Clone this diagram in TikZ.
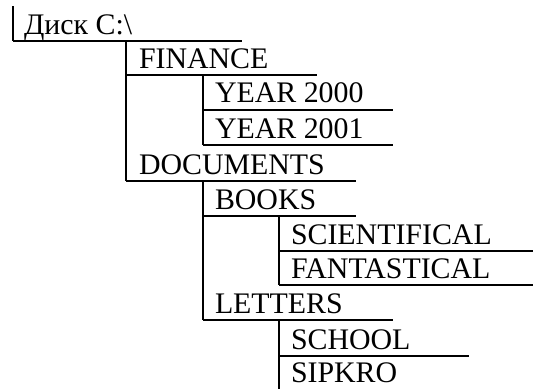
\documentclass[tikz,border=0pt]{standalone}
\usepackage{fontspec}
\setmainfont{Liberation Serif}
\usepackage{tikz}

\tikzset{
  lbl/.style={anchor=base west, inner sep=0pt, font=\fontsize{22.4}{26}\selectfont},
}

\begin{document}
\begin{tikzpicture}[x=0.75pt,y=-0.75pt,line width=1.5pt]
\useasboundingbox (0,0) rectangle (533,389);
% corners of the entries
\coordinate (top) at (13,6);
\coordinate (root) at (13,41);
\coordinate (fin) at (126,75);
\coordinate (y2000) at (203,110);
\coordinate (y2001) at (203,145);
\coordinate (doc) at (126,181);
\coordinate (books) at (203,216);
\coordinate (sci) at (279,251);
\coordinate (fan) at (279,285);
\coordinate (let) at (203,320);
\coordinate (school) at (279,356);
\coordinate (sip) at (279,389);
% labels
\node[lbl] (t-root) at ([shift={(10,-7)}]root) {Диск С:\textbackslash};
\node[lbl] (t-fin) at ([shift={(12,-7)}]fin) {FINANCE};
\node[lbl] (t-y2000) at ([shift={(11,-7)}]y2000) {YEAR 2000};
\node[lbl] (t-y2001) at ([shift={(11,-7)}]y2001) {YEAR 2001};
\node[lbl] (t-doc) at ([shift={(12,-7)}]doc) {DOCUMENTS};
\node[lbl] (t-books) at ([shift={(11,-7)}]books) {BOOKS};
\node[lbl] (t-sci) at ([shift={(11,-7)}]sci) {SCIENTIFICAL};
\node[lbl] (t-fan) at ([shift={(11,-7)}]fan) {FANTASTICAL};
\node[lbl] (t-let) at ([shift={(11,-7)}]let) {LETTERS};
\node[lbl] (t-school) at ([shift={(11,-7)}]school) {SCHOOL};
\node[lbl] (t-sip) at ([shift={(11,-7)}]sip) {SIPKRO};
% vertical lines
\draw (top) -- (root);
\draw (fin |- root) -- (doc);
\draw (y2000 |- fin) -- (y2001);
\draw (books |- doc) -- (let);
\draw (sci |- books) -- (fan);
\draw (school |- let) -- (sip);
% horizontal lines
\draw (root) -- ++(229,0);
\draw (fin) -- ++(191,0);
\draw (y2000) -- ++(190,0);
\draw (y2001) -- ++(190,0);
\draw (doc) -- ++(230,0);
\draw (books) -- ++(153,0);
\draw (sci) -- ++(254,0);
\draw (fan) -- ++(254,0);
\draw (let) -- ++(190,0);
\draw (school) -- ++(190,0);
\end{tikzpicture}
\end{document}
